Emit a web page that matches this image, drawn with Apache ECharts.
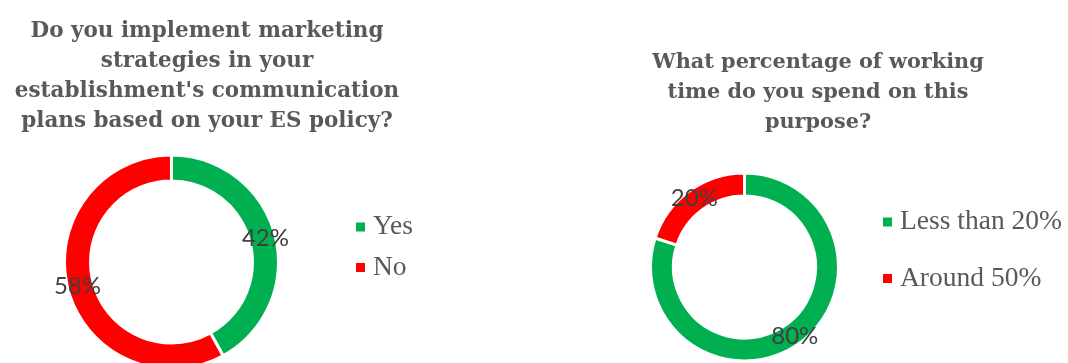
<!DOCTYPE html>
<html>
<head>
<meta charset="utf-8">
<script src="https://cdn.jsdelivr.net/npm/echarts@6/dist/echarts.min.js"></script>
<style>
  html, body { margin: 0; padding: 0; background: #ffffff; }
  #chart { width: 1068px; height: 363px; }
</style>
</head>
<body>
<div id="chart"></div>
<script>
// Survey answers, in percent
const q1Title = "Do you implement marketing\nstrategies in your\nestablishment's communication\nplans based on your ES policy?";
const q1Categories = ['Yes', 'No'];
const q1Values = [42, 58];

const q2Title = "What percentage of working\ntime do you spend on this\npurpose?";
const q2Categories = ['Less than 20%', 'Around 50%'];
const q2Values = [80, 20];

const sliceColors = ['#00B050', '#FF0000'];

const titleFont = { fontFamily: 'DejaVu Serif', fontWeight: 'bold', lineHeight: 30, color: '#595959', align: 'center' };
const legendFont = { fontFamily: 'Liberation Serif', fontSize: 27.5, color: '#595959', padding: [0, 0, 0, 3] };
const labelFont = { fontFamily: 'Lato', fontSize: 24, color: '#404040' };

function toData(cats, vals) {
  return cats.map((name, i) => ({ name, value: vals[i], itemStyle: { color: sliceColors[i] } }));
}

function donut(center, radius, cats, vals) {
  return {
    type: 'pie',
    center: center,
    radius: radius,
    startAngle: 90,
    clockwise: true,
    avoidLabelOverlap: false,
    itemStyle: { borderColor: '#ffffff', borderWidth: 3 },
    label: Object.assign({ show: true, position: 'inside', formatter: '{c}%' }, labelFont),
    labelLine: { show: false },
    emphasis: { disabled: true },
    data: toData(cats, vals)
  };
}

// Legend keys are plain squares, without the slice separators
const legendBase = {
  orient: 'vertical', padding: 0, icon: 'rect', itemWidth: 9, itemHeight: 9,
  itemStyle: { borderWidth: 0 }, textStyle: legendFont, selectedMode: false
};

const chart = echarts.init(document.getElementById('chart'), null, { renderer: 'canvas' });
chart.setOption({
  animation: false,
  backgroundColor: '#ffffff',
  title: [
    { text: q1Title, left: 202, top: 11, textAlign: 'center', textStyle: Object.assign({ fontSize: 21.5 }, titleFont) },
    { text: q2Title, left: 813, top: 43, textAlign: 'center', textStyle: Object.assign({ fontSize: 20.8 }, titleFont) }
  ],
  legend: [
    Object.assign({ data: q1Categories, left: 356, top: 213, itemGap: 12.5 }, legendBase),
    Object.assign({ data: q2Categories, left: 883, top: 208, itemGap: 28.5 }, legendBase)
  ],
  series: [
    donut([171.5, 262], [81, 107], q1Categories, q1Values),
    donut([744.5, 267], [71, 94], q2Categories, q2Values)
  ]
});
</script>
</body>
</html>
